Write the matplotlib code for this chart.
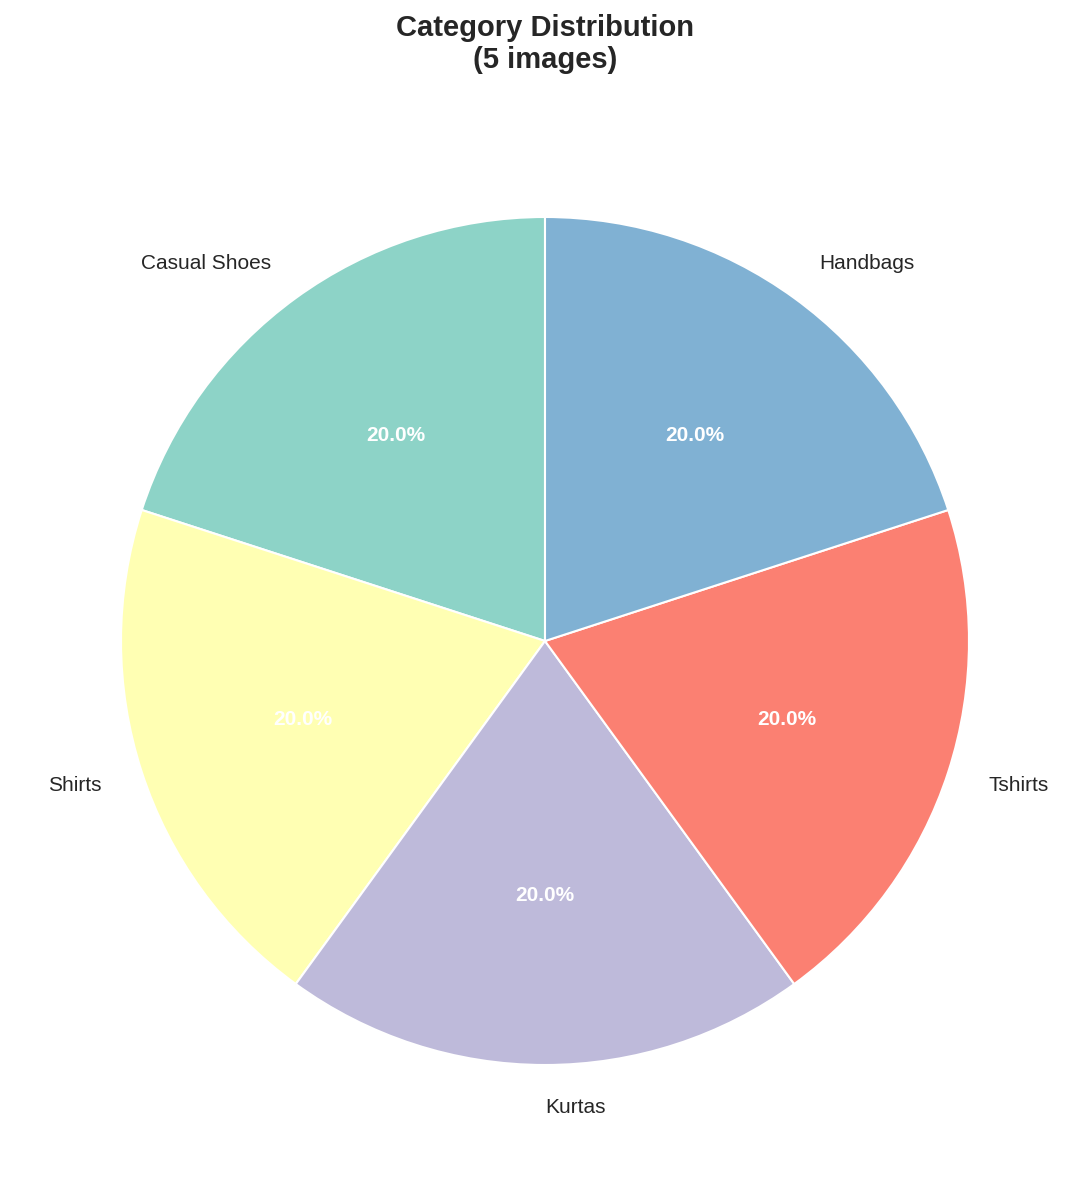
import matplotlib
matplotlib.use("Agg")
import matplotlib.pyplot as plt

categories = ["Casual Shoes", "Shirts", "Kurtas", "Tshirts", "Handbags"]
counts = [1, 1, 1, 1, 1]
colors = ["#8dd3c7", "#ffffb3", "#bebada", "#fb8072", "#80b1d3"]

plt.rcParams['font.family'] = ['Liberation Sans', 'DejaVu Sans']

W, H = 1091, 1187
fig = plt.figure(figsize=(W / 100, H / 100), dpi=100)
R = 424
cx, cy = 545, 641
side = 2.5 * R
ax = fig.add_axes([(cx - side / 2) / W, (H - cy - side / 2) / H, side / W, side / H])

wedges, texts, autotexts = ax.pie(
    counts, labels=categories, colors=colors, autopct='%1.1f%%', startangle=90,
    wedgeprops=dict(edgecolor='white', linewidth=1.5),
    textprops=dict(fontsize=15, color='#262626'))
for t in autotexts:
    t.set_color('white')
    t.set_fontweight('bold')
    t.set_fontsize(15)
ax.set_aspect('equal')

fig.text(cx / W, 1 - 44 / H, "Category Distribution\n(5 images)", ha='center', va='center',
         fontsize=21, fontweight='bold', color='#262626')

fig.savefig("out.png", dpi=100)
